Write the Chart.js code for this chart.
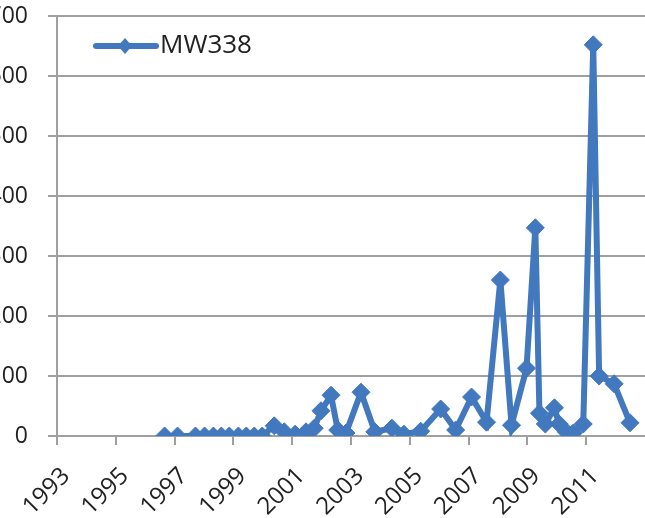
<!DOCTYPE html>
<html>
<head>
<meta charset="utf-8">
<script src="https://cdn.jsdelivr.net/npm/chart.js@4"></script>
<style>
  html, body { margin: 0; padding: 0; background: #ffffff; overflow: hidden; width: 645px; height: 518px; }
  #wrap { position: absolute; left: -12px; top: 0; width: 667px; height: 518px; }
</style>
</head>
<body>
<div id="wrap"><canvas id="c" width="667" height="518"></canvas></div>
<script>
// ---- data ----
const seriesName = "MW338";
const years = [
  1996.66, 1997.10, 1997.71, 1998.02, 1998.32, 1998.59, 1998.86, 1999.17, 1999.44, 1999.71,
  1999.98, 2000.39, 2000.73, 2001.10, 2001.47, 2001.75, 2001.98, 2002.32, 2002.55, 2002.83,
  2003.34, 2003.81, 2004.39, 2004.80, 2005.37, 2006.05, 2006.56, 2007.10, 2007.61, 2008.08,
  2008.46, 2008.97, 2009.27, 2009.41, 2009.61, 2009.92, 2010.08, 2010.32, 2010.56, 2010.90,
  2011.24, 2011.44, 2011.95, 2012.49
];
const values = [
  0, 0, 0, 0, 0, 0, 0, 0, 0, 0,
  0, 17, 7, 3, 7, 13, 42, 68, 10, 5,
  73, 7, 13, 3, 8, 45, 10, 65, 23, 260,
  18, 113, 347, 38, 20, 47, 20, 7, 5, 20,
  652, 100, 87, 22
];
const xTicks = [1993, 1995, 1997, 1999, 2001, 2003, 2005, 2007, 2009, 2011];
const yTicks = [0, 100, 200, 300, 400, 500, 600, 700];

const blue = '#4178be';
const gridGray = '#a0a0a0';

// legend symbol: line with diamond
const legImg = document.createElement('canvas');
legImg.width = 66; legImg.height = 24;
(function () {
  const g = legImg.getContext('2d');
  g.strokeStyle = blue; g.lineWidth = 6; g.lineCap = 'round';
  g.beginPath(); g.moveTo(3, 12); g.lineTo(63, 12); g.stroke();
  g.fillStyle = blue;
  g.beginPath(); g.moveTo(32, 4); g.lineTo(39, 12); g.lineTo(32, 20); g.lineTo(25, 12); g.closePath(); g.fill();
})();

const insideLegend = {
  id: 'insideLegend',
  afterDatasetsDraw(chart) {
    const ctx = chart.ctx;
    const a = chart.chartArea;
    const x0 = a.left + 36, cy = a.top + 30;
    ctx.save();
    ctx.drawImage(legImg, x0, cy - 12);
    ctx.fillStyle = '#222222';
    ctx.font = '26px "Open Sans"';
    ctx.textBaseline = 'middle';
    ctx.textAlign = 'left';
    ctx.fillText(chart.data.datasets[0].label, x0 + 67, cy);
    ctx.restore();
  }
};

const points = years.map((x, i) => ({ x: x, y: values[i] }));

new Chart(document.getElementById('c'), {
  type: 'line',
  data: {
    datasets: [{
      label: seriesName,
      data: points,
      borderColor: blue,
      backgroundColor: blue,
      borderWidth: 6,
      pointStyle: 'rectRot',
      pointRadius: 9,
      pointBorderWidth: 1,
      pointBackgroundColor: blue,
      pointBorderColor: blue,
      tension: 0,
      fill: false
    }]
  },
  plugins: [insideLegend],
  options: {
    responsive: false,
    animation: false,
    devicePixelRatio: 1,
    layout: { padding: { top: 0, right: 0, left: 0, bottom: 0 } },
    plugins: {
      tooltip: { enabled: false },
      legend: { display: false }
    },
    scales: {
      x: {
        type: 'linear',
        min: 1993,
        max: 2013,
        afterBuildTicks: (s) => { s.ticks = xTicks.map(v => ({ value: v })); },
        afterFit: (s) => { s.height = 82; s.paddingRight = 0; s.paddingLeft = 0; },
        grid: { display: true, drawOnChartArea: false, drawTicks: true, tickLength: 9, color: gridGray, lineWidth: 2 },
        border: { display: true, color: gridGray, width: 2 },
        ticks: {
          autoSkip: false,
          minRotation: 45,
          maxRotation: 45,
          padding: 17,
          labelOffset: 9,
          color: '#222222',
          font: { family: 'Open Sans', size: 24 },
          callback: (v) => String(v)
        }
      },
      y: {
        type: 'linear',
        min: 0,
        max: 700,
        afterBuildTicks: (s) => { s.ticks = yTicks.map(v => ({ value: v })); },
        afterFit: (s) => { s.width = 69; s.paddingTop = 16; s.paddingBottom = 0; },
        grid: { display: true, drawTicks: true, tickLength: 9, color: gridGray, lineWidth: 2 },
        border: { display: true, color: gridGray, width: 2 },
        ticks: {
          padding: 20,
          color: '#222222',
          font: { family: 'Open Sans', size: 23 },
          callback: (v) => String(v)
        }
      }
    }
  }
});
</script>
</body>
</html>
